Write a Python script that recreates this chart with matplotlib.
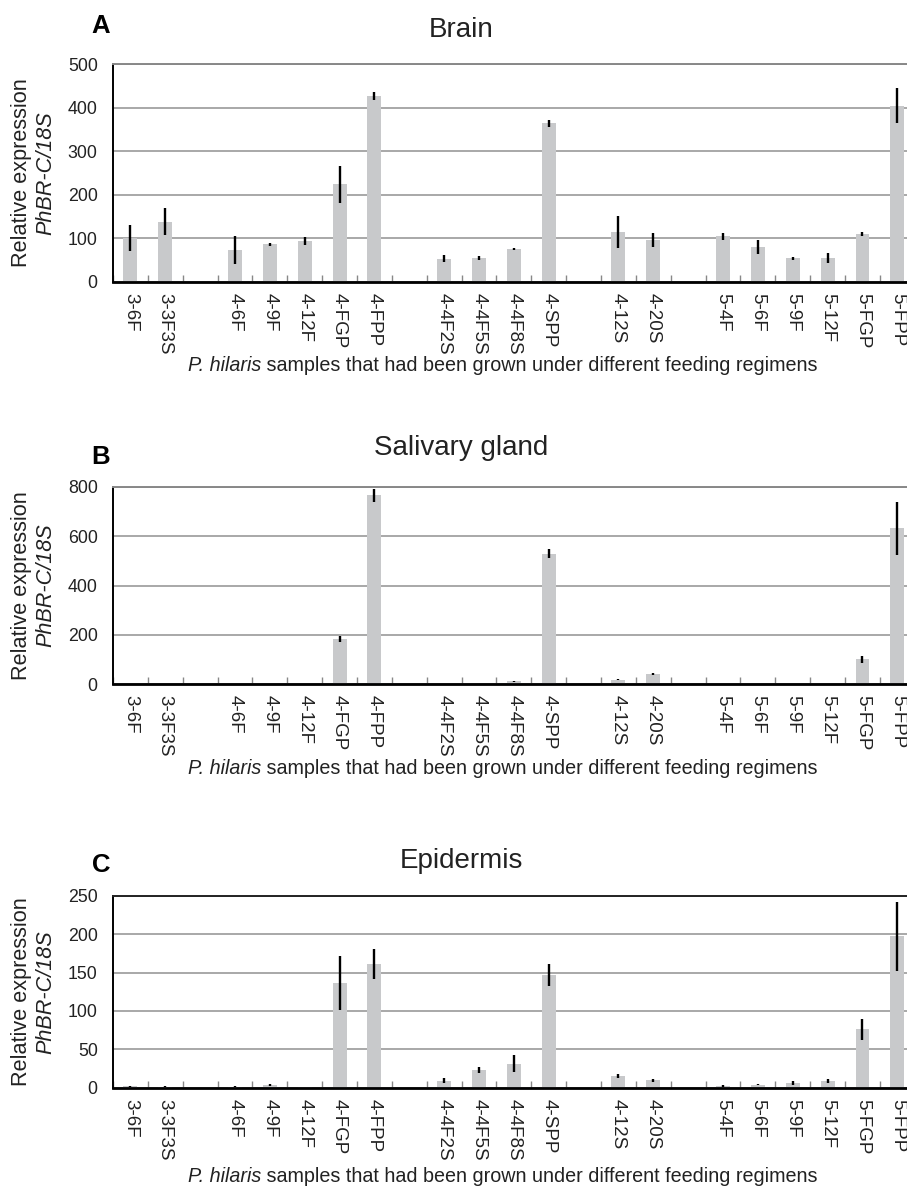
import numpy as np
import matplotlib.pyplot as plt

plt.rcParams['font.family'] = ['Liberation Sans', 'DejaVu Sans']

# sample groups (an empty slot sits between groups)
groups = [["3-6F", "3-3F3S"],
          ["4-6F", "4-9F", "4-12F", "4-FGP", "4-FPP"],
          ["4-4F2S", "4-4F5S", "4-4F8S", "4-SPP"],
          ["4-12S", "4-20S"],
          ["5-4F", "5-6F", "5-9F", "5-12F", "5-FGP", "5-FPP"]]

# values
brain = [101, 138, 73, 86, 94, 224, 427, 53, 54, 75, 364, 114, 96, 104, 80, 54, 54, 110, 405]
brain_err = [30, 31, 33, 3, 9, 42, 10, 8, 5, 3, 9, 37, 16, 9, 17, 3, 12, 5, 40]

saliva = [1, 1, 1, 1, 1, 183, 766, 2, 2, 12, 529, 18, 42, 0.5, 0.5, 1, 2, 101, 631]
saliva_err = [0, 0, 0, 0, 0, 12, 26, 1, 1, 1, 18, 2, 3, 0, 0, 1, 1, 13, 107]

epid = [2, 1.5, 1.5, 3.5, 1, 136, 161, 9, 23.4, 31, 147, 15, 9.5, 2, 4, 6, 8.7, 76, 197]
epid_err = [0.5, 0.5, 0.5, 1, 0.5, 35, 20, 3, 4, 11, 14, 3, 2, 1, 0.5, 3, 3, 14, 45]

labels = []
pos = []
x = 0
for g in groups:
    for lab in g:
        labels.append(lab)
        pos.append(x)
        x += 1
    x += 1
nslots = x - 1

W, H = 907, 1188
fig = plt.figure(figsize=(W / 100, H / 100), dpi=100)
renderer = fig.canvas.get_renderer()

# (title, letter, values, errors, ymax, step, axes top px, axes bottom px, title y, letter y, xlabel y, top spine colour)
panels = [
    ("Brain", "A", brain, brain_err, 500, 100, 64.3, 281.7, 30, 26, 365, "#888888"),
    ("Salivary gland", "B", saliva, saliva_err, 800, 200, 486.7, 684.3, 448, 457, 768, "#888888"),
    ("Epidermis", "C", epid, epid_err, 250, 50, 895.7, 1087.7, 861, 865, 1177, "#222222"),
]

left = 113
slot = 34.86
xmax = (W - left) / slot - 0.5

for title, letter, vals, errs, ymax, step, top, bot, ty, ly, xly, topcol in panels:
    ax = fig.add_axes([left / W, 1 - bot / H, 1 - left / W, (bot - top) / H])
    ax.bar(pos, vals, width=0.4, color="#c8c9cb", zorder=2)
    ax.errorbar(pos, vals, yerr=errs, fmt="none", ecolor="black", elinewidth=1.7, capsize=0, zorder=3)
    ax.set_yticks(np.arange(0, ymax + 1, step))
    ax.yaxis.grid(True, color="#999999", linewidth=1.2, zorder=0)
    ax.set_axisbelow(True)
    ax.tick_params(axis="y", length=0, pad=11, labelsize=12.8, colors="#222222")
    ax.set_xticks(pos)
    ax.set_xticklabels(labels, rotation=-90, fontsize=13.5, color="#222222")
    ax.tick_params(axis="x", which="major", length=0, pad=8)
    ax.set_xticks(np.arange(-0.5, nslots + 1), minor=True)
    ax.tick_params(axis="x", which="minor", direction="in", length=5, color="#888888", width=1)
    ax.set_xlim(-0.5, xmax)
    ax.set_ylim(0, ymax)
    ax.spines["right"].set_visible(False)
    ax.spines["top"].set_color(topcol)
    ax.spines["top"].set_linewidth(1.4)
    ax.spines["left"].set_linewidth(1.4)
    ax.spines["bottom"].set_linewidth(2)

    fig.text(461 / W, 1 - ty / H, title, ha="center", va="center", fontsize=20, color="#222222")
    fig.text(101 / W, 1 - ly / H, letter, ha="center", va="center", fontsize=18.5, fontweight="bold")
    mid = 1 - (top + bot) / 2 / H
    fig.text(22 / W, mid, "Relative expression", rotation=90, ha="center", va="center", fontsize=15.6, color="#222222")
    fig.text(46 / W, mid, "PhBR-C/18S", rotation=90, ha="center", va="center", fontsize=15.6, style="italic", color="#222222")

    # x label: italic species name followed by plain text
    it = fig.text(188 / W, 1 - xly / H, "P. hilaris", ha="left", va="center", fontsize=14.2,
                  style="italic", color="#222222")
    x1 = it.get_window_extent(renderer).x1
    fig.text(x1 / W, 1 - xly / H, " samples that had been grown under different feeding regimens",
             ha="left", va="center", fontsize=14.2, color="#222222")

fig.savefig("out.png", dpi=100)
